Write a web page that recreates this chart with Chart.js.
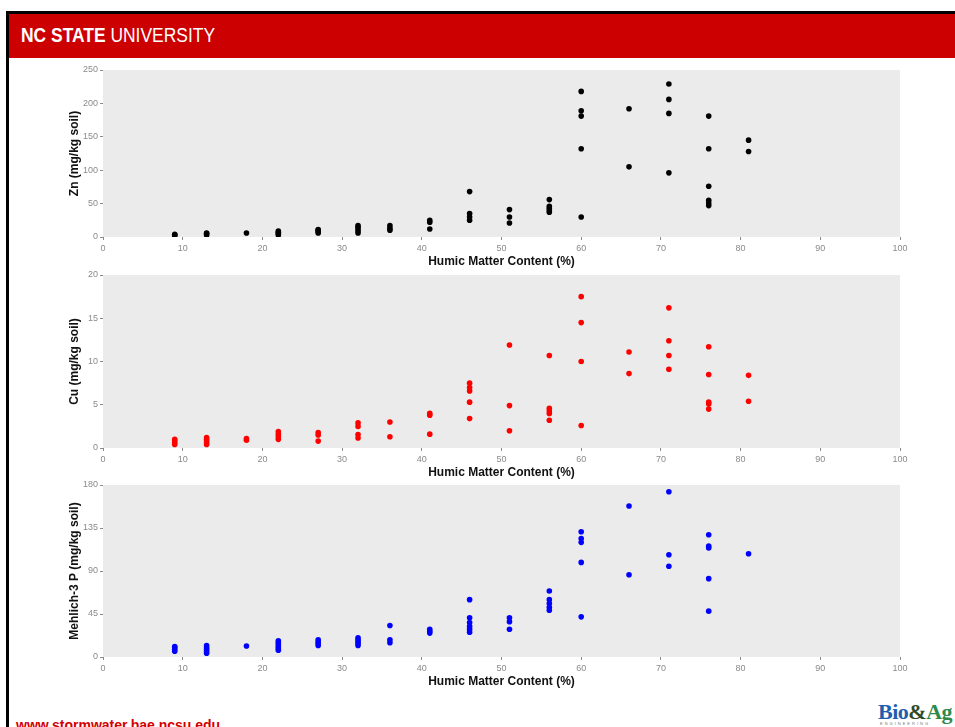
<!DOCTYPE html>
<html>
<head>
<meta charset="utf-8">
<script src="https://cdn.jsdelivr.net/npm/chart.js@4.4.1/dist/chart.umd.min.js"></script>
<style>
  html, body { margin:0; padding:0; background:#fff; }
  body { width:955px; height:727px; overflow:hidden; position:relative; font-family:"Liberation Sans", Arial, sans-serif; }
  .abs { position:absolute; }
  #topline { left:6px; top:11px; width:949px; height:3px; background:#000; }
  #leftline { left:6px; top:11px; width:3px; height:716px; background:#000; }
  #banner { left:9px; top:14px; width:946px; height:44px; background:#CC0000; }
  #bannerText { left:21px; top:22px; color:#fff; font-family:"Liberation Sans", Arial, sans-serif; font-size:21px; line-height:26px; white-space:nowrap; transform:scaleX(0.83); transform-origin:0 0; }
  #bannerText b { font-weight:bold; }
  #footer { left:16px; top:717px; color:#D40000; font-weight:bold; font-size:14px; line-height:16px; white-space:nowrap; }
  #logo { left:878px; top:700px; font-family:"Liberation Serif","Times New Roman",serif; font-weight:bold; font-size:22px; line-height:24px; white-space:nowrap; letter-spacing:-0.5px; }
  #logoSub { left:880px; top:721px; font-size:4px; color:#777; letter-spacing:2px; white-space:nowrap; }
  canvas { position:absolute; }
  .wrap { position:absolute; left:60px; width:860px; }
</style>
</head>
<body>
<div id="topline" class="abs"></div>
<div id="leftline" class="abs"></div>
<div id="banner" class="abs"></div>
<div id="bannerText" class="abs"><b>NC STATE</b> UNIVERSITY</div>

<div class="wrap" style="top:60px;height:215px;"><canvas id="c1"></canvas></div>
<div class="wrap" style="top:265px;height:221px;"><canvas id="c2"></canvas></div>
<div class="wrap" style="top:475px;height:220px;"><canvas id="c3"></canvas></div>

<div id="footer" class="abs">www.stormwater.bae.ncsu.edu</div>
<div id="logo" class="abs"><span style="color:#1f5fae">Bio</span><span style="color:#2f4a2a">&amp;</span><span style="color:#2f8a4a">Ag</span></div>
<div id="logoSub" class="abs">ENGINEERING</div>

<script>
// ---- data ----
const xTicks = [0, 10, 20, 30, 40, 50, 60, 70, 80, 90, 100];
const xTitle = "Humic Matter Content (%)";

const znX = [9,9,9, 13,13,13, 18, 22,22,22,22, 27,27,27,27, 32,32,32,32,32, 36,36,36, 41,41,41, 46,46,46,46, 51,51,51, 56,56,56,56,56, 60,60,60,60,60, 66,66, 71,71,71,71, 76,76,76,76,76,76, 81,81];
const znY = [2,3,4, 3,5,6, 6, 3,5,7,9, 6,8,10,11, 6,9,12,15,17, 10,13,17, 12,22,25, 25,30,35,68, 21,30,41, 37,40,43,46,56, 30,132,181,189,218, 105,192, 96,185,206,229, 47,51,55,76,132,181, 128,145];

const cuX = [9,9,9,9, 13,13,13,13,13, 18,18, 22,22,22,22, 27,27,27, 32,32,32,32, 36,36, 41,41,41, 46,46,46,46,46, 51,51,51, 56,56,56,56,56, 60,60,60,60, 66,66, 71,71,71,71, 76,76,76,76,76, 81,81];
const cuY = [0.4,0.6,0.8,1.0, 0.4,0.6,0.8,1.0,1.2, 0.9,1.1, 1.0,1.3,1.6,1.9, 0.8,1.5,1.8, 1.15,1.55,2.5,2.9, 1.3,3.0, 1.6,3.8,4.0, 3.4,5.3,6.6,7.0,7.5, 2.0,4.9,11.9, 3.2,4.0,4.3,4.6,10.7, 2.6,10.0,14.5,17.5, 8.6,11.1, 9.1,10.7,12.4,16.2, 4.5,5.1,5.3,8.5,11.7, 5.4,8.4];

const pX = [9,9,9,9, 13,13,13,13,13, 18, 22,22,22,22,22,22, 27,27,27,27, 32,32,32,32,32, 36,36,36, 41,41,41, 46,46,46,46,46,46, 51,51,51, 56,56,56,56,56, 60,60,60,60,60, 66,66, 71,71,71, 76,76,76,76,76, 81];
const pY = [6,8,10,11, 4,6,8,10,12, 11.5, 7,9,11,13,15,17, 12,14,16,18, 12,14,16,18,20, 15,18,33, 25,27,29, 26,29,32,36,41,60, 29,37,41, 49,52,56,60,69, 42,99,120,124,131, 86,158, 95,107,173, 48,82,114,116,128, 108];

const znTicks = [0, 50, 100, 150, 200, 250];
const cuTicks = [0, 5, 10, 15, 20];
const pTicks = [0, 45, 90, 135, 180];

// ---- helpers ----
const bgPlugin = {
  id: 'panelBg',
  beforeDatasetsDraw(chart) {
    const a = chart.chartArea, ctx = chart.ctx;
    ctx.save();
    ctx.fillStyle = '#EBEBEB';
    ctx.fillRect(a.left, a.top, a.right - a.left, a.bottom - a.top);
    ctx.restore();
  }
};

function pts(xs, ys) { return xs.map((x, i) => ({ x: x, y: ys[i] })); }

function makePanel(id, xs, ys, color, yTicks, yTitle) {
  const ymin = yTicks[0], ymax = yTicks[yTicks.length - 1];
  const tickFont = { family: "'Liberation Sans', Arial, sans-serif", size: 9 };
  const titleFont = { family: "'Liberation Sans', Arial, sans-serif", size: 12, weight: 'bold' };
  new Chart(document.getElementById(id), {
    type: 'scatter',
    data: { datasets: [{ data: pts(xs, ys), backgroundColor: color, borderColor: color, borderWidth: 0, pointRadius: 2.8, pointHoverRadius: 2.8 }] },
    options: {
      responsive: true, maintainAspectRatio: false, animation: false,
      events: [],
      layout: { padding: { top: 10, right: 20, bottom: 0, left: 0 } },
      plugins: { legend: { display: false }, tooltip: { enabled: false } },
      scales: {
        x: {
          type: 'linear', min: xTicks[0], max: xTicks[xTicks.length - 1],
          afterBuildTicks: s => { s.ticks = xTicks.map(v => ({ value: v })); },
          afterFit: s => { s.height = 38; },
          border: { display: false },
          grid: { display: true, drawOnChartArea: false, drawTicks: true, tickLength: 3, color: '#8a8a8a', tickColor: '#8a8a8a' },
          ticks: { color: '#8a8a8a', font: tickFont, padding: 3, maxRotation: 0, autoSkip: false },
          title: { display: true, text: xTitle, color: '#111', font: titleFont, padding: { top: 0, bottom: 6 } }
        },
        y: {
          type: 'linear', min: ymin, max: ymax,
          afterBuildTicks: s => { s.ticks = yTicks.map(v => ({ value: v })); },
          afterFit: s => { s.width = 43; },
          border: { display: false },
          grid: { display: true, drawOnChartArea: false, drawTicks: true, tickLength: 3, color: '#8a8a8a', tickColor: '#8a8a8a' },
          ticks: { color: '#8a8a8a', font: tickFont, padding: 2, autoSkip: false },
          title: { display: true, text: yTitle, color: '#111', font: titleFont, padding: { top: 7, bottom: 0 } }
        }
      }
    },
    plugins: [bgPlugin]
  });
}

makePanel('c1', znX, znY, '#000000', znTicks, 'Zn (mg/kg soil)');
makePanel('c2', cuX, cuY, '#FF0000', cuTicks, 'Cu (mg/kg soil)');
makePanel('c3', pX, pY, '#0000FF', pTicks, 'Mehlich-3 P (mg/kg soil)');
</script>
</body>
</html>
